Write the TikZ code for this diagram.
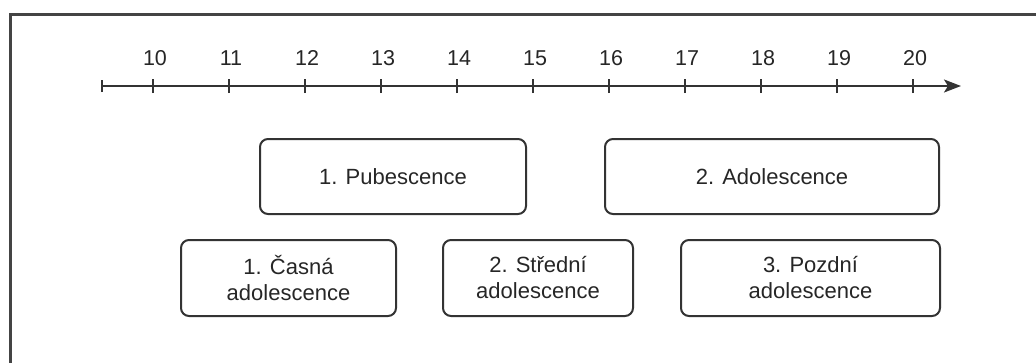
\documentclass[tikz,border=0pt]{standalone}
\usepackage{fontspec}
\setmainfont{Liberation Sans}
\usepackage{xcolor}
\usetikzlibrary{arrows.meta}

\definecolor{LineGray}{HTML}{333333}
\definecolor{FrameGray}{HTML}{444444}

\begin{document}
\begin{tikzpicture}[x=1pt, y=-1pt,
        phase/.style={draw=LineGray, line width=2pt, rounded corners=8pt, align=center, inner sep=0pt, text=black!85, font=\fontsize{22}{26}\selectfont},
        agelabel/.style={text=black!85, inner sep=0pt, font=\fontsize{21.5}{26}\selectfont},
        axisline/.style={draw=LineGray, line width=2pt}]
        \useasboundingbox (0, 0) rectangle (1036, 362);

        % frame, only the top and left sides show
        \draw[draw=FrameGray, line width=3pt] (10, 14) rectangle (1060, 390);

        % age axis
        \coordinate (axstart) at (102, 86);
        \coordinate (axend) at (961, 86);
        \draw[axisline, -{Stealth[length=17pt, width=13pt, inset=4pt]}] (axstart) -- (axend);
        \draw[axisline] ([yshift=-6pt]axstart) -- ([yshift=6pt]axstart);

        \foreach \age [count=\i from 0] in {10, 11, ..., 20} {
            \coordinate (tick\age) at (153 + 76*\i, 86);
            \draw[axisline] ([yshift=-7pt]tick\age) -- ([yshift=7pt]tick\age);
            \node (age\age) at (155 + 76*\i, 58)[agelabel] {\age};
        }

        % upper row
        \node (pub) at (393, 176.5)[phase, minimum width=266pt, minimum height=75pt] {1. Pubescence};
        \node (adol) at (772, 176.5)[phase, minimum width=334pt, minimum height=75pt] {2. Adolescence};

        % lower row
        \node (early) at (288.5, 278)[phase, minimum width=215pt, minimum height=76pt] {1. Časná\\adolescence};
        \node (middle) at (538, 278)[phase, minimum width=190pt, minimum height=76pt] {2. Střední\\adolescence};
        \node (late) at (810.5, 278)[phase, minimum width=259pt, minimum height=76pt] {3. Pozdní\\adolescence};
    \end{tikzpicture}
\end{document}
